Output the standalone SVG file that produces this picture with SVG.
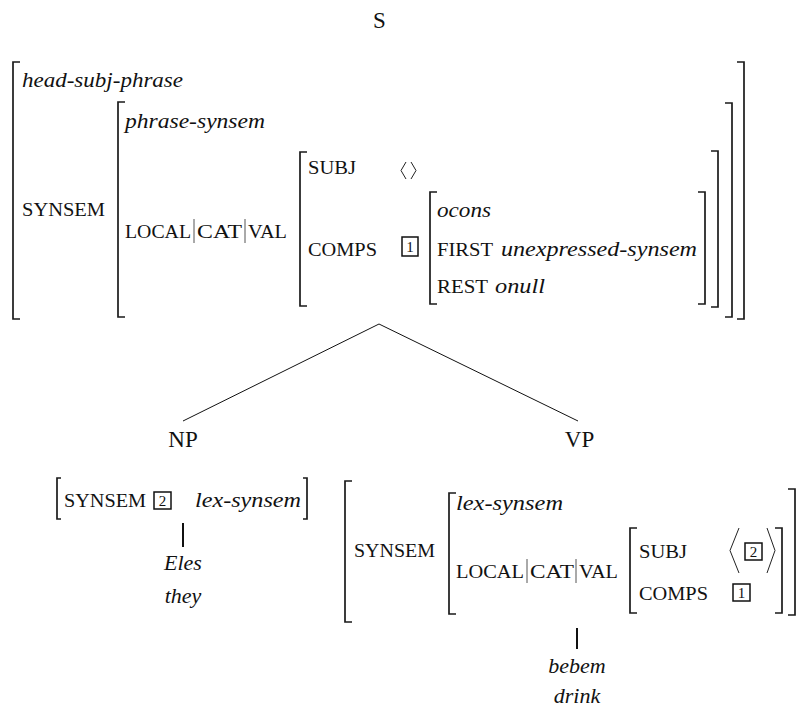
<svg xmlns="http://www.w3.org/2000/svg" width="799" height="708" viewBox="0 0 799 708">
  <style>
    text { font-family: "Liberation Serif", "Times New Roman", serif; fill: #111; }
    .it { font-style: italic; font-size: 22px; }
    .sc { font-size: 18px; }
    .cat { font-size: 23px; }
    .tag { font-size: 15px; }
    .br { fill: none; stroke: #1a1a1a; stroke-width: 1.7; }
    .bar { stroke: #555; stroke-width: 1; }
    .ang { fill: none; stroke: #222; stroke-width: 1; }
    .box { fill: none; stroke: #111; stroke-width: 1.5; }
    .edge { stroke: #111; stroke-width: 1; fill: none; }
    .stem { stroke: #111; stroke-width: 2; }
  </style>

  <!-- tree edges -->
  <g id="connectors">
    <line class="edge" x1="379" y1="324" x2="183" y2="421"/>
    <line class="edge" x1="379" y1="324" x2="578" y2="421"/>
    <line class="stem" x1="183" y1="523" x2="183" y2="547"/>
    <line class="stem" x1="577" y1="628" x2="577" y2="649"/>
  </g>

  <!-- root S with its feature structure -->
  <g id="node-S">
    <text class="cat" x="379.5" y="28" text-anchor="middle">S</text>

    <!-- head-subj-phrase -->
    <path class="br" d="M20,62 H13 V319 H20"/>
    <path class="br" d="M737,62 H744 V319 H737"/>
    <text class="it" x="22" y="87" textLength="161" lengthAdjust="spacingAndGlyphs">head-subj-phrase</text>
    <text class="sc" x="22" y="216" textLength="83" lengthAdjust="spacingAndGlyphs">SYNSEM</text>

    <!-- phrase-synsem -->
    <path class="br" d="M125,102 H118 V317 H125"/>
    <path class="br" d="M725,103 H732 V317 H725"/>
    <text class="it" x="125" y="128" textLength="140" lengthAdjust="spacingAndGlyphs">phrase-synsem</text>
    <text class="sc" x="125" y="238" textLength="66" lengthAdjust="spacingAndGlyphs">LOCAL</text>
    <line class="bar" x1="194" y1="219" x2="194" y2="243"/>
    <text class="sc" x="197" y="238" textLength="45" lengthAdjust="spacingAndGlyphs">CAT</text>
    <line class="bar" x1="245" y1="219" x2="245" y2="243"/>
    <text class="sc" x="248" y="238" textLength="39" lengthAdjust="spacingAndGlyphs">VAL</text>

    <!-- valence -->
    <path class="br" d="M307,152 H300 V306 H307"/>
    <path class="br" d="M711,151 H718 V307 H711"/>
    <text class="sc" x="308" y="174" textLength="48" lengthAdjust="spacingAndGlyphs">SUBJ</text>
    <path class="ang" d="M406,162 L401,170.5 L406,179 M411,162 L416,170.5 L411,179"/>
    <text class="sc" x="308" y="256" textLength="69" lengthAdjust="spacingAndGlyphs">COMPS</text>
    <rect class="box" x="402" y="237" width="16" height="19"/>
    <text class="tag" x="410" y="252" text-anchor="middle">1</text>

    <!-- ocons list -->
    <path class="br" d="M437,192 H430 V304 H437"/>
    <path class="br" d="M698,192 H705 V304 H698"/>
    <text class="it" x="437" y="217" textLength="54" lengthAdjust="spacingAndGlyphs">ocons</text>
    <text class="sc" x="437" y="256" textLength="56" lengthAdjust="spacingAndGlyphs">FIRST</text>
    <text class="it" x="501" y="256" textLength="196" lengthAdjust="spacingAndGlyphs">unexpressed-synsem</text>
    <text class="sc" x="437" y="293" textLength="51" lengthAdjust="spacingAndGlyphs">REST</text>
    <text class="it" x="495" y="293" textLength="50" lengthAdjust="spacingAndGlyphs">onull</text>
  </g>

  <!-- subject NP -->
  <g id="node-NP">
    <text class="cat" x="183" y="447" text-anchor="middle">NP</text>
    <path class="br" d="M61,478 H57 V519 H61"/>
    <path class="br" d="M303,478 H307 V519 H303"/>
    <text class="sc" x="64" y="507" textLength="82" lengthAdjust="spacingAndGlyphs">SYNSEM</text>
    <rect class="box" x="154" y="492" width="17" height="17"/>
    <text class="tag" x="162.5" y="506" text-anchor="middle">2</text>
    <text class="it" x="195" y="507" textLength="106" lengthAdjust="spacingAndGlyphs">lex-synsem</text>
  </g>

  <g id="word-Eles">
    <text class="it" x="183" y="570" text-anchor="middle">Eles</text>
    <text class="it" x="183" y="603" text-anchor="middle">they</text>
  </g>

  <!-- head VP -->
  <g id="node-VP">
    <text class="cat" x="579.5" y="447" text-anchor="middle">VP</text>
    <path class="br" d="M352,481 H345 V622 H352"/>
    <text class="sc" x="354" y="557" textLength="81" lengthAdjust="spacingAndGlyphs">SYNSEM</text>

    <path class="br" d="M456,493 H449 V614 H456"/>
    <path class="br" d="M788,489 H795 V615 H788"/>
    <text class="it" x="456" y="510" textLength="107" lengthAdjust="spacingAndGlyphs">lex-synsem</text>
    <text class="sc" x="456" y="578" textLength="68" lengthAdjust="spacingAndGlyphs">LOCAL</text>
    <line class="bar" x1="527" y1="559" x2="527" y2="583"/>
    <text class="sc" x="530" y="578" textLength="44" lengthAdjust="spacingAndGlyphs">CAT</text>
    <line class="bar" x1="576" y1="559" x2="576" y2="583"/>
    <text class="sc" x="579" y="578" textLength="39" lengthAdjust="spacingAndGlyphs">VAL</text>

    <path class="br" d="M637,528 H630 V613 H637"/>
    <path class="br" d="M775,528 H782 V613 H775"/>
    <text class="sc" x="639" y="558" textLength="48" lengthAdjust="spacingAndGlyphs">SUBJ</text>
    <path class="ang" d="M739,528 L730,550.5 L739,573 M767,528 L775,550.5 L767,573"/>
    <rect class="box" x="745" y="543" width="17" height="17"/>
    <text class="tag" x="753.5" y="557" text-anchor="middle">2</text>
    <text class="sc" x="639" y="600" textLength="69" lengthAdjust="spacingAndGlyphs">COMPS</text>
    <rect class="box" x="733" y="584" width="17" height="17"/>
    <text class="tag" x="741.5" y="598" text-anchor="middle">1</text>
  </g>

  <g id="word-bebem">
    <text class="it" x="577" y="673" text-anchor="middle">bebem</text>
    <text class="it" x="577" y="703" text-anchor="middle">drink</text>
  </g>
</svg>
